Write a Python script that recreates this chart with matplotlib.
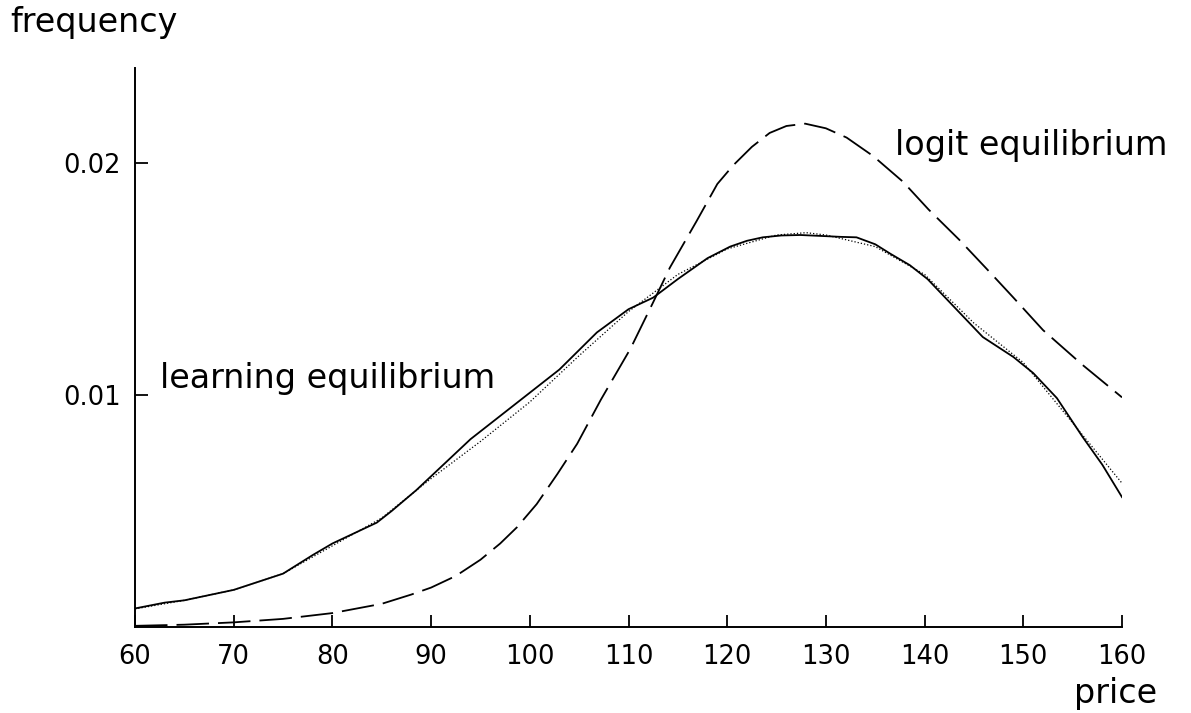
import numpy as np
import matplotlib
matplotlib.use("Agg")
import matplotlib.pyplot as plt

# learning equilibrium (simulated, solid)
learn_price = [60, 63, 65, 70, 75, 78, 80, 82, 84.5, 86, 88.5, 91.5, 94, 96.7, 100,
               103, 106.8, 110, 112.5, 115, 118, 120.3, 122, 123.6, 125.5, 127.4, 130,
               131.5, 133.1, 135, 136.5, 138.5, 140.3, 143.3, 145.9, 149, 151, 153.4,
               156, 158, 160]
learn_freq = [0.00080, 0.00105, 0.00115, 0.0016, 0.0023, 0.0031, 0.0036, 0.0040, 0.0045,
              0.0050, 0.0059, 0.0071, 0.0081, 0.0090, 0.0101, 0.0111, 0.0127, 0.0137,
              0.0142, 0.0150, 0.0159, 0.0164, 0.01665, 0.0168, 0.01688, 0.0169, 0.01685,
              0.01682, 0.0168, 0.0165, 0.0161, 0.0156, 0.0150, 0.01366, 0.0125, 0.01164,
              0.01095, 0.00987, 0.0082, 0.0070, 0.0056]

# smooth fit (dotted)
fit_price = [60, 65, 70, 75, 80, 85, 90, 95, 100, 105, 110, 115, 120, 125, 128, 130,
             135, 140, 145, 150, 155, 160]
fit_freq = [0.00078, 0.00115, 0.0016, 0.0023, 0.0035, 0.0047, 0.0064, 0.0080, 0.0097,
            0.0117, 0.0136, 0.0152, 0.0163, 0.0169, 0.0170, 0.0169, 0.0164, 0.0152,
            0.0131, 0.0114, 0.0088, 0.0062]

# logit equilibrium (dashed)
logit_price = [60, 65, 70, 75, 80, 85, 88, 90, 92.5, 95, 97, 98.7, 100.7, 102.8, 104.8,
               107.2, 110.2, 112.5, 114.2, 116.9, 119, 120.6, 122.5, 124.3, 126, 127.9,
               130, 132.1, 134.8, 137.8, 140.4, 143.5, 146.6, 149, 152, 156, 160]
logit_freq = [0.00005, 0.0001, 0.0002, 0.00035, 0.0006, 0.0010, 0.0014, 0.0017, 0.0022,
              0.0029, 0.0036, 0.0043, 0.0053, 0.0066, 0.0079, 0.0098, 0.0120, 0.0140,
              0.0155, 0.0175, 0.0191, 0.0199, 0.0207, 0.0213, 0.0216, 0.0217, 0.0215,
              0.0211, 0.0203, 0.0192, 0.0180, 0.0167, 0.0153, 0.0142, 0.0128, 0.0113,
              0.0099]

x_ticks = [60, 70, 80, 90, 100, 110, 120, 130, 140, 150, 160]
y_ticks = [0.01, 0.02]
y_ticklabels = ["0.01", "0.02"]

fig = plt.figure(figsize=(11.91, 7.13), dpi=100)
ax = fig.add_axes([135 / 1191, 86 / 713, 987 / 1191, 559 / 713])

ax.plot(fit_price, fit_freq, color="black", lw=0.9, linestyle=(0, (1, 1.6)))
ax.plot(learn_price, learn_freq, color="black", lw=1.3, solid_joinstyle="round")
ax.plot(logit_price, logit_freq, color="black", lw=1.3, linestyle=(0, (18, 5)),
        dash_joinstyle="round")

ax.set_xlim(60, 160)
ax.set_ylim(0, 0.0241)
ax.spines["top"].set_visible(False)
ax.spines["right"].set_visible(False)
for s in ("left", "bottom"):
    ax.spines[s].set_linewidth(1.4)

ax.set_xticks(x_ticks)
ax.set_xticklabels([str(t) for t in x_ticks])
ax.set_yticks(y_ticks)
ax.set_yticklabels(y_ticklabels)
ax.tick_params(axis="both", direction="in", length=9, width=1.3, labelsize=18.5)
ax.tick_params(axis="x", pad=12)
ax.tick_params(axis="y", pad=10)

ax.text(62.5, 0.0103, "learning equilibrium", fontsize=24, ha="left", va="baseline")
ax.text(137.0, 0.02034, "logit equilibrium", fontsize=24, ha="left", va="baseline")
fig.text(10 / 1191, (713 - 32) / 713, "frequency", fontsize=24, ha="left", va="baseline")
fig.text(1157 / 1191, 10 / 713, "price", fontsize=24, ha="right", va="baseline")

fig.savefig("out.png", dpi=100)
